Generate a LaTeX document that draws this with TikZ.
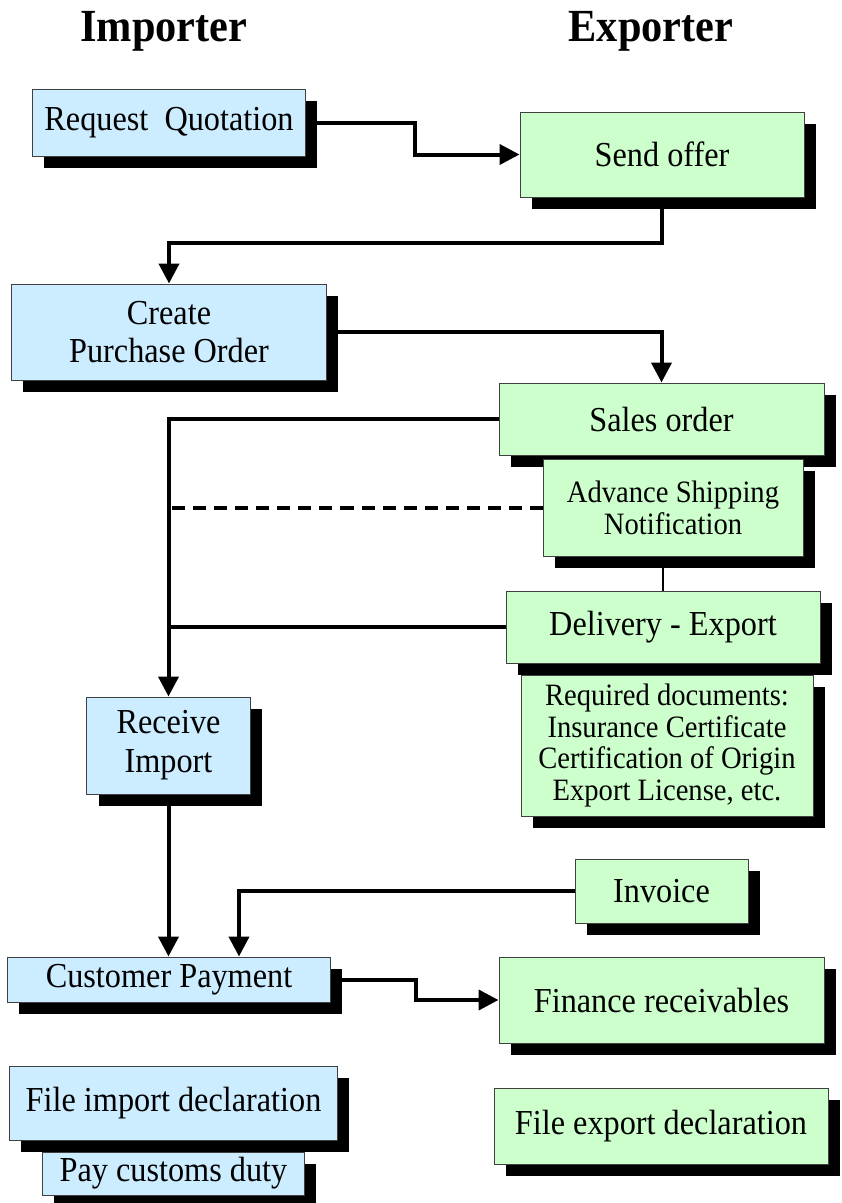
\documentclass[tikz,border=0pt]{standalone}
\usepackage{fontspec}
\setmainfont{Liberation Serif}[FakeStretch=0.92]
\usepackage{tikz}
\usetikzlibrary{shapes,shadows,arrows.meta,calc,positioning}

\definecolor{importblue}{RGB}{204,236,255}
\definecolor{exportgreen}{RGB}{204,255,204}
\definecolor{boxedge}{RGB}{64,64,64}

\newcommand{\stepfont}{\fontsize{35.2}{39}\selectfont}
\newcommand{\notefont}{\fontsize{31.2}{32}\selectfont}
\newcommand{\sidefont}{\fontsize{46.2}{52}\selectfont\bfseries}

\begin{document}
\begin{tikzpicture}[
	%	style def
    x=1bp, y=-1bp,
    flow line/.style={line width=4bp},
    flow arrow/.style={flow line, -{Triangle[length=20bp,width=20bp]}},
    thin link/.style={line width=1.8bp},
    flow box/.style={draw=boxedge, line width=1bp, inner sep=0pt, align=center, font=\stepfont,
        drop shadow={shadow xshift=11.5bp, shadow yshift=-11.5bp, fill=black, opacity=1}},
    importer box/.style={flow box, fill=importblue},
    exporter box/.style={flow box, fill=exportgreen},
    side title/.style={font=\sidefont, anchor=base}
    ]
    \useasboundingbox (0,0) rectangle (842,1203);

    % column titles
    \node[side title] (imp) at (164,41.7) {Importer};
    \node[side title] (exp) at (651,41.7) {Exporter};

    % importer and exporter steps
    \node[importer box, minimum width=272bp, minimum height=67bp] (quote) at (169,122.5) {Request~~Quotation};
    \node[exporter box, minimum width=284bp, minimum height=85bp] (offer) at (662,154.5) {Send offer};
    \node[importer box, minimum width=314bp, minimum height=96bp] (order) at (169,332) {Create\\Purchase Order};
    \node[exporter box, minimum width=325bp, minimum height=72bp] (sales) at (661.5,419) {Sales order};
    \node[exporter box, minimum width=260bp, minimum height=97bp, font=\notefont] (asn) at (673,507.5) {Advance Shipping\\Notification};
    \node[exporter box, minimum width=314bp, minimum height=72bp] (delivery) at (663,627) {Delivery - Export};
    \node[exporter box, minimum width=292bp, minimum height=141bp, font=\notefont] (docs) at (667,745.5) {Required documents:\\Insurance Certificate\\Certification of Origin\\Export License, etc.};
    \node[importer box, minimum width=163bp, minimum height=97bp] (receive) at (168.5,745.5) {Receive\\Import};
    \node[exporter box, minimum width=173bp, minimum height=64bp] (invoice) at (661.5,891) {Invoice};
    \node[importer box, minimum width=322bp, minimum height=45bp] (payment) at (169,979.5) {Customer Payment};
    \node[exporter box, minimum width=325bp, minimum height=86bp] (finance) at (661.5,1000) {Finance receivables};
    \node[importer box, minimum width=327bp, minimum height=74bp] (impdecl) at (173.5,1103) {File import declaration};
    \node[importer box, minimum width=261bp, minimum height=43bp] (duty) at (173.5,1173.5) {Pay customs duty};
    \node[exporter box, minimum width=334bp, minimum height=76bp] (expdecl) at (661,1126) {File export declaration};

    % quotation and order
    \draw[flow arrow] (quote.east) -- ++(109,0) |- (offer.west);
    \draw[flow arrow] (offer.south) -- ++(0,45) -| (order.north);
    \draw[flow arrow] (order.east) -| (sales.north);

    % shipping to the importer
    \draw[flow arrow] (sales.west) -| (receive.north);
    \draw[flow line, dash pattern=on 13bp off 8bp] (asn.west) -- (asn.west -| receive.north);
    \draw[flow line] (delivery.west) -- (delivery.west -| receive.north);
    \draw[thin link] (asn.south -| delivery.north) -- (delivery.north);

    % payment
    \draw[flow arrow] (receive.south) -- (receive.south |- payment.north);
    \draw[flow arrow] (invoice.west) -| ([xshift=70bp]payment.north);
    \draw[flow arrow] (payment.east) -- ++(85,0) |- (finance.west);
\end{tikzpicture}
\end{document}
